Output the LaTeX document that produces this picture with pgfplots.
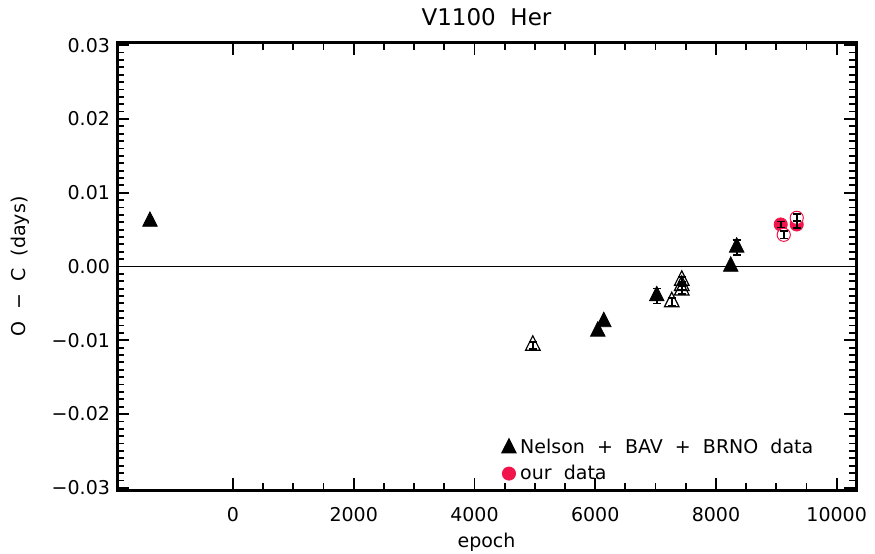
\documentclass[border=0pt]{standalone}
\usepackage{fontspec}
\setmainfont{DejaVu Sans}[WordSpace=2]
\usepackage{pgfplots}
\pgfplotsset{compat=1.18}
\definecolor{ourred}{RGB}{240,20,75}

\begin{document}
\begin{tikzpicture}
\begin{axis}[
  scale only axis,
  width=369.5pt, height=223.5pt,
  xmin=-1920, xmax=10320,
  ymin=-0.0303, ymax=0.0303,
  clip marker paths=true,
  scaled ticks=false,
  xtick={0,2000,4000,6000,8000,10000},
  xticklabels={0,2000,4000,6000,8000,10000},
  minor x tick num=3,
  ytick={-0.03,-0.02,-0.01,0,0.01,0.02,0.03},
  yticklabels={−0.03,−0.02,−0.01,0.00,0.01,0.02,0.03},
  minor y tick num=9,
  tick align=inside,
  major tick length=6pt, minor tick length=3.5pt,
  every tick/.style={black, line width=0.9pt},
  axis line style={line width=1.5pt},
  tick label style={font=\fontsize{9.5}{11}\selectfont},
  xticklabel style={yshift=-5pt},
  every axis title shift=0pt,
  title={V1100 Her},
  title style={font=\fontsize{11.5}{13}\selectfont, at={(axis description cs:0.5,1)}, anchor=center, yshift=13pt},
  xlabel={epoch},
  xlabel style={font=\fontsize{9.5}{11}\selectfont, at={(axis description cs:0.5,0)}, anchor=center, yshift=-26pt},
  ylabel={O − C (days)},
  ylabel style={font=\fontsize{9.5}{11}\selectfont, at={(axis description cs:-0.131,0.5)}, anchor=center},
  legend style={draw=none, fill=none, at={(axis description cs:0.52,0.123)}, anchor=north west,
    font=\fontsize{9.5}{11}\selectfont, row sep=0pt, inner sep=0pt},
  legend cell align=left,
  legend image code/.code={\draw[mark repeat=2,mark phase=2,#1] plot coordinates {(0cm,0cm) (0.15cm,0cm) (0.3cm,0cm)};},
]
% zero line
\addplot[forget plot, black, line width=0.5pt] coordinates {(-1920,0) (10320,0)};

% Nelson + BAV + BRNO, open triangles
\addplot[forget plot, only marks, mark=triangle, mark size=4.2pt, mark options={black, line width=0.6pt, yscale=1.15}]
  coordinates {(4967,-0.0107) (7268,-0.0048) (7434,-0.0019) (7434,-0.0026) (7434,-0.0032)};

% Nelson + BAV + BRNO, filled triangles
\addplot[only marks, mark=triangle*, mark size=4.2pt, mark options={black, fill=black, yscale=1.15}]
  coordinates {(-1374,0.0061) (6043,-0.0088) (6142,-0.0075) (7020,-0.0040) (8245,0.0000) (8344,0.0026)};
\addlegendentry{Nelson + BAV + BRNO data}

% our data, filled
\addplot[only marks, mark=*, mark size=3.3pt, mark options={ourred, fill=ourred}]
  coordinates {(9073,0.0057) (9338,0.0057)};
\addlegendentry{our data}

% our data, open
\addplot[forget plot, only marks, mark=*, mark size=3.3pt, mark options={draw=ourred, fill=white, line width=0.5pt}]
  coordinates {(9338,0.0066) (9123,0.0043)};

% error bars on top
\addplot[forget plot, draw=none, mark=none,
  error bars/.cd, y dir=both, y explicit,
  error bar style={draw=black, line width=0.8pt},
  error mark options={draw=black, line width=0.8pt, mark size=2pt, rotate=90}]
  coordinates {
    (4967,-0.0107) +- (0,0.0005)
    (7268,-0.0048) +- (0,0.0005)
    (7434,-0.0019) +- (0,0.0005)
    (7434,-0.0026) +- (0,0.0005)
    (7434,-0.0032) +- (0,0.0005)
    (7020,-0.0040) +- (0,0.0010)
    (8344,0.0026) +- (0,0.0010)
    (9073,0.0057) +- (0,0.0004)
    (9338,0.0057) +- (0,0.0005)
    (9338,0.0066) +- (0,0.0005)
    (9123,0.0043) +- (0,0.0005)
  };
\end{axis}
\pgfresetboundingbox
\path ([shift={(-58.5pt,-31.5pt)}]current axis.south west) rectangle ([shift={(9.5pt,21.5pt)}]current axis.north east);
\end{tikzpicture}
\end{document}
